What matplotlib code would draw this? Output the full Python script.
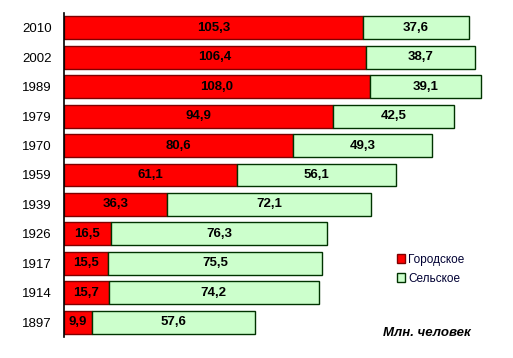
import matplotlib
matplotlib.use("Agg")
import matplotlib.pyplot as plt
from matplotlib.patches import Patch

plt.rcParams['font.family'] = ['Liberation Sans', 'DejaVu Sans']

years = ["2010", "2002", "1989", "1979", "1970", "1959", "1939", "1926", "1917", "1914", "1897"]
urban = [105.3, 106.4, 108.0, 94.9, 80.6, 61.1, 36.3, 16.5, 15.5, 15.7, 9.9]
rural = [37.6, 38.7, 39.1, 42.5, 49.3, 56.1, 72.1, 76.3, 75.5, 74.2, 57.6]
legend_labels = ["Городское", "Сельское"]
unit_label = "Млн. человек"

W, H = 513, 358
fig = plt.figure(figsize=(W / 100, H / 100), dpi=100)
ax = fig.add_axes([64 / W, 1 - 337 / H, 439 / W, 324 / H])

ypos = list(range(len(years)))
fmt = lambda v: f"{v:.1f}".replace(".", ",")

ax.barh(ypos, urban, height=0.78, color="#FF0000", edgecolor="#800000", linewidth=1.0)
ax.barh(ypos, rural, left=urban, height=0.78, color="#CCFFCC", edgecolor="#003300", linewidth=1.0)

for y, u, r in zip(ypos, urban, rural):
    ax.text(u / 2, y, fmt(u), ha="center", va="center", fontsize=9.5, fontweight="bold", color="black")
    ax.text(u + r / 2, y, fmt(r), ha="center", va="center", fontsize=9.5, fontweight="bold", color="black")

ax.set_xlim(0, 439 / 2.835)
ax.set_ylim(len(years) - 0.5, -0.5)
ax.set_yticks(ypos)
ax.set_yticklabels(years, fontsize=9.5)
ax.tick_params(axis="y", length=0, pad=9)
ax.set_xticks([])
for s in ["top", "right", "bottom"]:
    ax.spines[s].set_visible(False)
ax.spines["left"].set_linewidth(1.2)

handles = [Patch(facecolor="#FF0000", edgecolor="#800000"), Patch(facecolor="#CCFFCC", edgecolor="#003300")]
fig.legend(handles, legend_labels, loc="upper left", bbox_to_anchor=(386 / W, 1 - 243 / H),
           frameon=False, fontsize=8.5, handlelength=0.7, handleheight=0.7, handletextpad=0.3,
           labelspacing=0.6, labelcolor="#000033")

fig.text(383 / W, 1 - 333 / H, unit_label, fontsize=9.5, fontweight="bold", fontstyle="italic",
         ha="left", va="center")

fig.savefig("out.png", dpi=100)
